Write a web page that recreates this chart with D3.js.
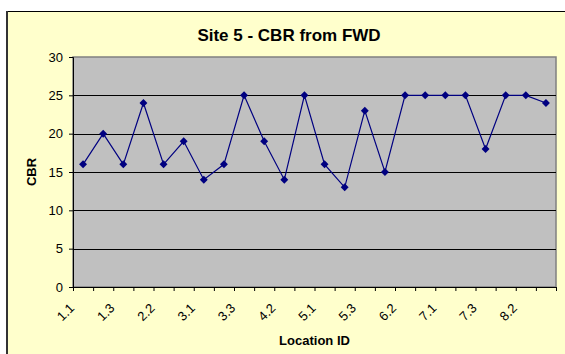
<!DOCTYPE html>
<html>
<head>
<meta charset="utf-8">
<script src="https://cdn.jsdelivr.net/npm/d3@7"></script>
<style>
  html, body { margin: 0; padding: 0; background: #ffffff; }
  svg { display: block; }
  text { font-family: Arial, "Liberation Sans", sans-serif; fill: #000; }
</style>
</head>
<body>
<svg id="chart" width="565" height="354"></svg>
<script>
// Location IDs along the survey (site.point)
const locations = [
  "1.1","1.2","1.3","2.1","2.2","2.3","3.1","3.2","3.3","4.1","4.2","4.3",
  "5.1","5.2","5.3","6.1","6.2","6.3","7.1","7.2","7.3","8.1","8.2","8.3"
];
// CBR back-calculated from falling weight deflectometer
const cbrValues = [
  16, 20, 16, 24, 16, 19, 14, 16, 25, 19, 14, 25,
  16, 13, 23, 15, 25, 25, 25, 25, 18, 25, 25, 24
];
// Labels shown on the category axis (every second location)
const shownLabels = ["1.1","1.3","2.2","3.1","3.3","4.2","5.1","5.3","6.2","7.1","7.3","8.2"];
const yTicks = [0, 5, 10, 15, 20, 25, 30];

const svg = d3.select("#chart");

// Chart area
svg.append("rect")
  .attr("x", 7).attr("y", 11.5)
  .attr("width", 570).attr("height", 360)
  .attr("fill", "#FFFFCC")
  .attr("stroke", "#000").attr("stroke-width", 1);
svg.append("line")
  .attr("x1", 7).attr("x2", 7).attr("y1", 11).attr("y2", 354)
  .attr("stroke", "#333").attr("stroke-width", 2);

const plot = { left: 73, right: 556, top: 57, bottom: 287 };

const x = d3.scaleBand().domain(locations).range([plot.left, plot.right]).padding(0);
const xEdge = d3.scaleLinear().domain([0, locations.length]).range([plot.left, plot.right]);
const y = d3.scaleLinear().domain([0, 30]).range([plot.bottom, plot.top]);

// Plot area
svg.append("rect")
  .attr("x", plot.left).attr("y", plot.top)
  .attr("width", plot.right - plot.left).attr("height", plot.bottom - plot.top)
  .attr("fill", "#C0C0C0")
  .attr("stroke", "#808080").attr("stroke-width", 1.5);

// Horizontal gridlines
svg.append("g")
  .selectAll("line")
  .data(yTicks.filter(v => v > 0 && v < 30))
  .join("line")
  .attr("x1", plot.left).attr("x2", plot.right)
  .attr("y1", d => Math.round(y(d)) + 0.5).attr("y2", d => Math.round(y(d)) + 0.5)
  .attr("stroke", "#000").attr("stroke-width", 1);

// Value axis
const yAxis = svg.append("g")
  .attr("transform", `translate(${plot.left},0)`)
  .call(d3.axisLeft(y).tickValues(yTicks).tickSize(4).tickPadding(6).tickFormat(d3.format("d")));
yAxis.select(".domain").attr("stroke", "#000");
yAxis.selectAll(".tick line").attr("stroke", "#000");
yAxis.selectAll("text").style("font-size", "13px").attr("fill", "#000");

// Category axis: boundary ticks
const xTickAxis = svg.append("g")
  .attr("transform", `translate(0,${plot.bottom})`)
  .call(d3.axisBottom(xEdge).tickValues(d3.range(0, locations.length + 1)).tickSize(4).tickFormat(""));
xTickAxis.select(".domain").attr("stroke", "#000");
xTickAxis.selectAll(".tick line").attr("stroke", "#000");

// Category axis: rotated labels
const xLabelAxis = svg.append("g")
  .attr("transform", `translate(0,${plot.bottom})`)
  .call(d3.axisBottom(x).tickSize(0).tickFormat(d => shownLabels.includes(d) ? d : ""));
xLabelAxis.select(".domain").remove();
xLabelAxis.selectAll("text")
  .style("font-size", "13px")
  .attr("fill", "#000")
  .attr("text-anchor", "end")
  .attr("dy", null)
  .attr("y", 0)
  .attr("transform", "translate(-8,22) rotate(-45)");

// Data line
const line = d3.line()
  .x((d, i) => x(locations[i]) + x.bandwidth() / 2)
  .y(d => y(d));
svg.append("path")
  .datum(cbrValues)
  .attr("d", line)
  .attr("fill", "none")
  .attr("stroke", "#000080")
  .attr("stroke-width", 1.2);

// Diamond markers
const diamond = d3.symbol().type(d3.symbolDiamond2).size(40);
svg.append("g")
  .selectAll("path")
  .data(cbrValues)
  .join("path")
  .attr("d", diamond)
  .attr("transform", (d, i) => `translate(${x(locations[i]) + x.bandwidth() / 2},${y(d)})`)
  .attr("fill", "#000080");

// Titles
svg.append("text")
  .attr("x", 289).attr("y", 41)
  .attr("text-anchor", "middle")
  .style("font-size", "17px").style("font-weight", "bold")
  .text("Site 5 - CBR from FWD");

svg.append("text")
  .attr("x", (plot.left + plot.right) / 2).attr("y", 345)
  .attr("text-anchor", "middle")
  .style("font-size", "13px").style("font-weight", "bold")
  .text("Location ID");

svg.append("text")
  .attr("transform", `translate(36,${(plot.top + plot.bottom) / 2}) rotate(-90)`)
  .attr("text-anchor", "middle")
  .style("font-size", "13px").style("font-weight", "bold")
  .text("CBR");
</script>
</body>
</html>
